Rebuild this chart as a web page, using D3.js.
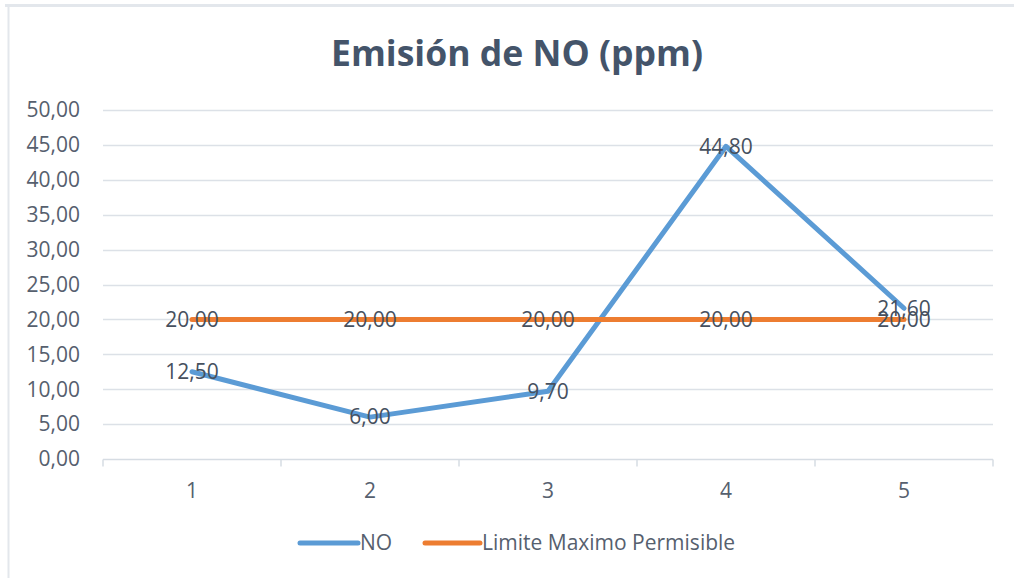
<!DOCTYPE html>
<html>
<head>
<meta charset="utf-8">
<script src="https://cdn.jsdelivr.net/npm/d3@7/dist/d3.min.js"></script>
<style>
  body { margin: 0; background: #fff; }
  text { font-family: "Open Sans", sans-serif; }
</style>
</head>
<body>
<div id="chart"></div>
<script>
// chart data
const categories = ['1', '2', '3', '4', '5'];
const noValues = [12.5, 6.0, 9.7, 44.8, 21.6];
const limitValues = [20, 20, 20, 20, 20];
const yTicks = [0, 5, 10, 15, 20, 25, 30, 35, 40, 45, 50];
const seriesNames = ['NO', 'Limite Maximo Permisible'];
const colors = ['#5B9BD5', '#ED7D31'];

const width = 1014, height = 578;
const margin = { top: 110, right: 21, bottom: 119, left: 103 };
const fmt = v => d3.format('.2f')(v).replace('.', ',');

const svg = d3.select('#chart').append('svg')
  .attr('width', width)
  .attr('height', height);

// chart area border (only top and left edges show)
svg.append('line').attr('x1', 5).attr('x2', width).attr('y1', 5.5).attr('y2', 5.5)
  .attr('stroke', '#E3E7EC').attr('stroke-width', 3);
svg.append('line').attr('x1', 8.5).attr('x2', 8.5).attr('y1', 5).attr('y2', height)
  .attr('stroke', '#E3E7EC').attr('stroke-width', 2);

const x = d3.scaleBand()
  .domain(categories)
  .range([margin.left, width - margin.right]);

const y = d3.scaleLinear()
  .domain([0, 50])
  .range([height - margin.bottom, margin.top]);

// gridlines
svg.append('g')
  .selectAll('line')
  .data(yTicks.slice(1))
  .join('line')
  .attr('x1', margin.left).attr('x2', width - margin.right)
  .attr('y1', d => Math.round(y(d)) + 0.5).attr('y2', d => Math.round(y(d)) + 0.5)
  .attr('stroke', '#DCE1E7').attr('stroke-width', 1.5);

// y axis labels
svg.append('g')
  .selectAll('text')
  .data(yTicks)
  .join('text')
  .attr('x', 80)
  .attr('y', d => y(d))
  .attr('dy', '0.35em')
  .attr('text-anchor', 'end')
  .attr('font-size', 21)
  .attr('fill', '#56606E')
  .text(fmt);

// x axis with tick marks at category boundaries
const x0 = Math.round(y(0)) + 0.5;
svg.append('line')
  .attr('x1', margin.left).attr('x2', width - margin.right)
  .attr('y1', x0).attr('y2', x0)
  .attr('stroke', '#D6DCE3').attr('stroke-width', 1.5);
const bounds = categories.map(c => x(c)).concat([width - margin.right]);
svg.append('g')
  .selectAll('line')
  .data(bounds)
  .join('line')
  .attr('x1', d => d).attr('x2', d => d)
  .attr('y1', x0).attr('y2', x0 + 7)
  .attr('stroke', '#D6DCE3').attr('stroke-width', 1.5);

svg.append('g')
  .selectAll('text')
  .data(categories)
  .join('text')
  .attr('x', d => x(d) + x.bandwidth() / 2)
  .attr('y', 491)
  .attr('dy', '0.35em')
  .attr('text-anchor', 'middle')
  .attr('font-size', 21)
  .attr('fill', '#56606E')
  .text(d => d);

// lines
const cx = (d, i) => x(categories[i]) + x.bandwidth() / 2;
const line = d3.line().x(cx).y(d => y(d));
[noValues, limitValues].forEach((vals, k) => {
  svg.append('path')
    .datum(vals)
    .attr('d', line)
    .attr('fill', 'none')
    .attr('stroke', colors[k])
    .attr('stroke-width', 5)
    .attr('stroke-linejoin', 'round')
    .attr('stroke-linecap', 'round');
});

// data labels, centered on points (Excel "center" position)
[limitValues, noValues].forEach(vals => {
  svg.append('g')
    .selectAll('text')
    .data(vals)
    .join('text')
    .attr('x', cx)
    .attr('y', d => y(d))
    .attr('dy', '0.35em')
    .attr('text-anchor', 'middle')
    .attr('font-size', 21)
    .attr('fill', '#46505E')
    .text(fmt);
});

// title
svg.append('text')
  .attr('x', 517)
  .attr('y', 66)
  .attr('text-anchor', 'middle')
  .attr('font-size', 36)
  .attr('font-weight', 'bold')
  .attr('fill', '#44546A')
  .attr('textLength', 372)
  .attr('lengthAdjust', 'spacingAndGlyphs')
  .text('Emisión de NO (ppm)');

// legend
const legendX = [300, 425];
const legendW = [58, 55];
const leg = svg.append('g');
seriesNames.forEach((name, i) => {
  leg.append('line')
    .attr('x1', legendX[i]).attr('x2', legendX[i] + legendW[i])
    .attr('y1', 543).attr('y2', 543)
    .attr('stroke', colors[i]).attr('stroke-width', 5)
    .attr('stroke-linecap', 'round');
  leg.append('text')
    .attr('x', legendX[i] + legendW[i] + 2)
    .attr('y', 543)
    .attr('dy', '0.35em')
    .attr('font-size', 21)
    .attr('fill', '#56606E')
    .text(name);
});
</script>
</body>
</html>
